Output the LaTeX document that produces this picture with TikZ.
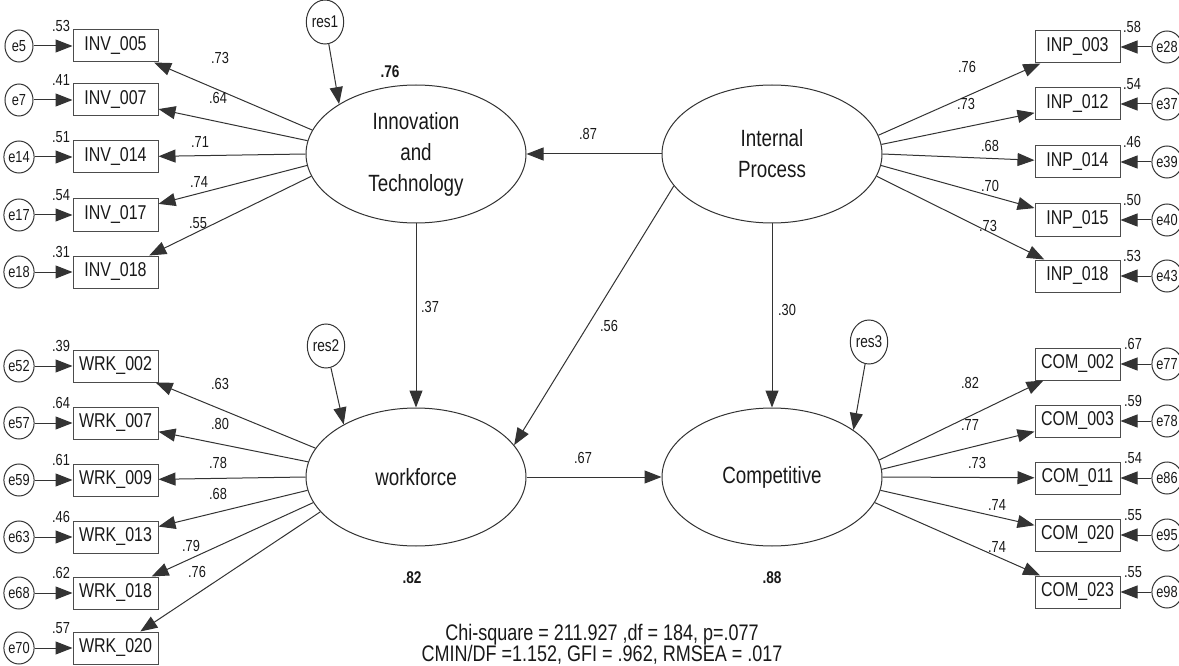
\documentclass[tikz,border=0pt]{standalone}
\usepackage{fontspec}
\setmainfont{Liberation Sans}[FakeStretch=0.80]
\usetikzlibrary{shapes.geometric,arrows.meta}
\newcommand\obsfont{\fontsize{20}{22}\selectfont}
\newcommand\latfont{\fontsize{23.5}{31}\selectfont}
\newcommand\coeffont{\fontsize{16}{18}\selectfont}
\newcommand\errfont{\fontsize{16}{18}\selectfont}
\newcommand\resfont{\fontsize{17}{20}\selectfont}
\newcommand\fitfont{\fontsize{22.5}{21}\selectfont}
\tikzset{
  lat/.style={ellipse, draw=black!80, line width=1pt, minimum width=220pt, minimum height=138pt, inner sep=0pt, align=center, font=\latfont, text=black!90},
  obs/.style={rectangle, draw=black!70, line width=1pt, minimum width=85pt, minimum height=32pt, inner sep=0pt, font=\obsfont, text=black!90},
  err/.style={ellipse, draw=black!80, line width=1pt, minimum width=28pt, minimum height=32pt, inner sep=0pt, font=\errfont, text=black!90},
  res/.style={ellipse, draw=black!80, line width=1pt, minimum width=36pt, minimum height=44pt, inner sep=0pt, font=\resfont, text=black!90},
  coef/.style={inner sep=1pt, font=\coeffont, text=black!90},
  conn/.style={draw=black!80, line width=1pt, -{Triangle[length=17pt,width=13pt]}},
}
\begin{document}
\begin{tikzpicture}[x=1pt,y=-1pt]
\fill[white] (0,0) rectangle (1179,666);
\useasboundingbox (0,0) rectangle (1179,666);

% latent variables
\node[lat] (inn) at (416,154) {Innovation\\and\\Technology};
\node[lat] (ip) at (772,154) {Internal\\Process};
\node[lat] (wf) at (416,477) {workforce};
\node[lat] (cp) at (772,477) {Competitive};

% residuals
\node[res] (r1) at (325,22) {res1};
\node[res] (r2) at (326,346) {res2};
\node[res] (r3) at (869,342) {res3};
\draw[conn] (r1) -- (inn.147);
\draw[conn] (r2) -- (wf.144);
\draw[conn] (r3) -- (cp.30);

% R squared of latents
\node[coef, font=\fontsize{17}{19}\selectfont\bfseries] (b1) at (390,72) {.76};
\node[coef, font=\fontsize{17}{19}\selectfont\bfseries] (b2) at (412,578) {.82};
\node[coef, font=\fontsize{17}{19}\selectfont\bfseries] (b3) at (772,578) {.88};

% structural paths
\draw[conn] (ip.west) -- (inn.east);
\node[coef] (p1) at (588,134) {.87};
\draw[conn] (inn.south) -- (wf.north);
\node[coef] (p2) at (430,307) {.37};
\draw[conn] (ip.198) -- (wf.18);
\node[coef] (p3) at (609,326) {.56};
\draw[conn] (ip.south) -- (cp.north);
\node[coef] (p4) at (787,310) {.30};
\draw[conn] (wf.east) -- (cp.west);
\node[coef] (p5) at (583,458) {.67};

% Innovation indicators
\foreach \y/\lab/\ee/\sm/\ang/\lx/\ly/\ld [count=\n] in {
  46/INV\_005/e5/.53/167/220/58/.73,
  100/INV\_007/e7/.41/173/218/98/.64,
  157/INV\_014/e14/.51/180/200/142/.71,
  215/INV\_017/e17/.54/186/199/182/.74,
  272/INV\_018/e18/.31/192/198/223/.55}{
  \node[obs] (a\n) at (115.5,\y) {\lab};
  \node[err] (ae\n) at (19,\y) {\ee};
  \node[coef] (as\n) at (61,\y-20) {\sm};
  \node[coef] (al\n) at (\lx,\ly) {\ld};
  \draw[conn] (ae\n) -- (a\n);
  \draw[conn] (inn.\ang) -- (a\n);
}

% workforce indicators
\foreach \y/\lab/\ee/\sm/\ang/\lx/\ly/\ld [count=\n] in {
  366/WRK\_002/e52/.39/164/220/384/.63,
  423/WRK\_007/e57/.64/172/220/424/.80,
  480/WRK\_009/e59/.61/180/218/463/.78,
  537/WRK\_013/e63/.46/187/218/494/.68,
  593/WRK\_018/e68/.62/194/191/546/.79,
  648/WRK\_020/e70/.57/200/197/572/.76}{
  \node[obs] (w\n) at (115.5,\y) {\lab};
  \node[err] (we\n) at (19,\y) {\ee};
  \node[coef] (ws\n) at (61,\y-20) {\sm};
  \node[coef] (wl\n) at (\lx,\ly) {\ld};
  \draw[conn] (we\n) -- (w\n);
  \draw[conn] (wf.\ang) -- (w\n);
}

% Internal Process indicators
\foreach \y/\lab/\ee/\sm/\ang/\lx/\ly/\ld [count=\n] in {
  47/INP\_003/e28/.58/10/967/67/.76,
  104/INP\_012/e37/.54/5/966/104/.73,
  162/INP\_014/e39/.46/0/990/146/.68,
  220/INP\_015/e40/.50/354/990/186/.70,
  276/INP\_018/e43/.53/348/988/226/.73}{
  \node[obs] (q\n) at (1077.5,\y) {\lab};
  \node[err] (qe\n) at (1167,\y) {\ee};
  \node[coef] (qs\n) at (1132,\y-20) {\sm};
  \node[coef] (ql\n) at (\lx,\ly) {\ld};
  \draw[conn] (qe\n) -- (q\n);
  \draw[conn] (ip.\ang) -- (q\n);
}

% Competitive indicators
\foreach \y/\lab/\ee/\sm/\ang/\lx/\ly/\ld [count=\n] in {
  364/COM\_002/e77/.67/9/970/383/.82,
  421/COM\_003/e78/.59/4/970/425/.77,
  478/COM\_011/e86/.54/0/977/463/.73,
  535/COM\_020/e95/.55/353/997/505/.74,
  592/COM\_023/e98/.55/346/997/547/.74}{
  \node[obs] (c\n) at (1077.5,\y) {\lab};
  \node[err] (ce\n) at (1167,\y) {\ee};
  \node[coef] (cs\n) at (1133,\y-20) {\sm};
  \node[coef] (cl\n) at (\lx,\ly) {\ld};
  \draw[conn] (ce\n) -- (c\n);
  \draw[conn] (cp.\ang) -- (c\n);
}

% fit indices
\node[font=\fitfont, align=center, text=black!90, inner sep=0pt] (fit) at (602,644)
  {Chi-square = 211.927 ,df = 184, p=.077\\CMIN/DF =1.152, GFI = .962, RMSEA = .017};
\end{tikzpicture}
\end{document}
